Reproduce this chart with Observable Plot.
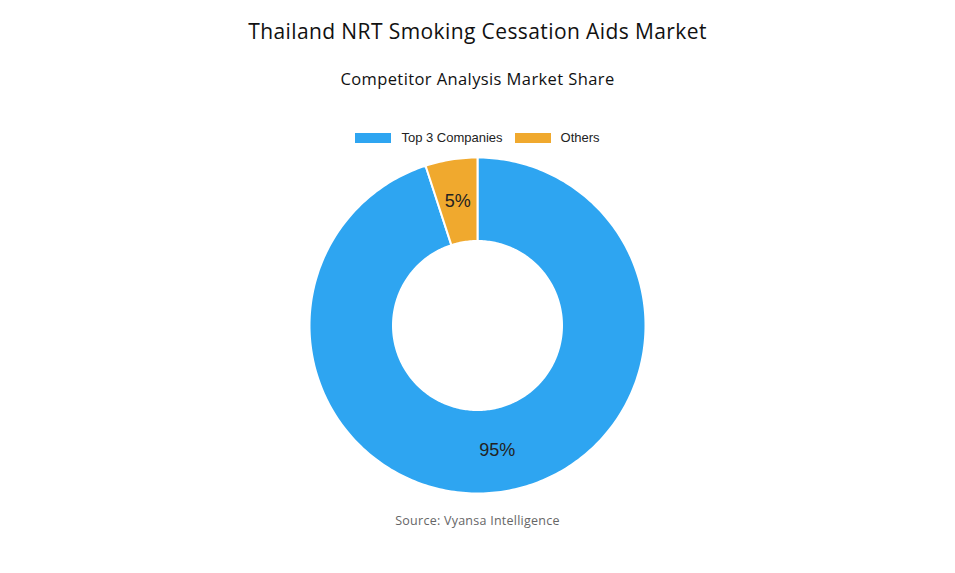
<!DOCTYPE html>
<html>
<head>
<meta charset="utf-8">
<script src="https://cdn.jsdelivr.net/npm/d3@7"></script>
<script src="https://cdn.jsdelivr.net/npm/@observablehq/plot@0.6"></script>
<style>
  html, body { margin: 0; padding: 0; background: #fff; }
  #root { position: relative; width: 955px; height: 573px; overflow: hidden; }
  .title { position: absolute; left: 0; width: 955px; top: 17px; text-align: center;
    font-family: "Open Sans", sans-serif; font-size: 21px; color: #111; letter-spacing: 0.4px; }
  .subtitle { position: absolute; left: 0; width: 955px; top: 67px; text-align: center;
    font-family: "Open Sans", sans-serif; font-size: 16.5px; color: #111; letter-spacing: 0.4px; }
  .legend { position: absolute; left: 0; width: 955px; top: 121px; display: flex; justify-content: center; }
  #legend [class$="-swatch"] { margin-right: 12px !important; }
  #legend [class$="-swatch"]:last-child { margin-right: 0 !important; }
  #legend [class$="-swatch"] > svg { margin-right: 10px !important; }
  .chart { position: absolute; left: 302px; top: 150px; }
  .source { position: absolute; left: 0; width: 955px; top: 512px; text-align: center;
    font-family: "Open Sans", sans-serif; font-size: 12.5px; color: #666; letter-spacing: 0.25px; }
</style>
</head>
<body>
<div id="root">
  <div class="title">Thailand NRT Smoking Cessation Aids Market</div>
  <div class="subtitle">Competitor Analysis Market Share</div>
  <div class="legend" id="legend"></div>
  <div class="chart" id="chart"></div>
  <div class="source">Source: Vyansa Intelligence</div>
</div>
<script>
const categories = ["Top 3 Companies", "Others"];
const shares = [95, 5];
const labels = ["95%", "5%"];
const colors = ["#2ea5f1", "#f0a92e"];

const size = 350;
const outerPx = 168;
const innerPx = 84.5;
const R = (size / 2) / outerPx;   // domain half-extent in units of outer radius
const inner = innerPx / outerPx;

const total = d3.sum(shares);
const polys = [];
const labelRows = [];
let start = 0;
categories.forEach((cat, i) => {
  const a0 = start / total * 2 * Math.PI;
  const a1 = (start + shares[i]) / total * 2 * Math.PI;
  start += shares[i];
  const steps = Math.max(4, Math.ceil((a1 - a0) / (Math.PI / 180)));
  for (let k = 0; k <= steps; k++) {
    const a = a0 + (a1 - a0) * k / steps;
    polys.push({cat, x: Math.sin(a), y: Math.cos(a)});
  }
  for (let k = steps; k >= 0; k--) {
    const a = a0 + (a1 - a0) * k / steps;
    polys.push({cat, x: inner * Math.sin(a), y: inner * Math.cos(a)});
  }
  const am = (a0 + a1) / 2;
  const rm = (1 + inner) / 2;
  labelRows.push({cat, label: labels[i], x: rm * Math.sin(am), y: rm * Math.cos(am)});
});

const chart = Plot.plot({
  width: size,
  height: size,
  margin: 0,
  x: {domain: [-R, R], axis: null},
  y: {domain: [-R, R], axis: null},
  color: {domain: categories, range: colors},
  marks: [
    Plot.line(polys, {x: "x", y: "y", z: "cat", fill: "cat", stroke: "white", strokeWidth: 2, curve: "linear-closed"}),
    Plot.text(labelRows, {x: "x", y: "y", text: "label", fill: "#222", fontSize: 18, fontFamily: "Liberation Sans, Arial, sans-serif"})
  ]
});
document.getElementById("chart").appendChild(chart);

const legend = Plot.legend({
  color: {type: "ordinal", domain: categories, range: colors},
  legend: "swatches",
  swatchWidth: 36,
  swatchHeight: 10,
  style: {fontFamily: "Liberation Sans, Arial, sans-serif", fontSize: "13px", color: "#222"}
});
document.getElementById("legend").appendChild(legend);
</script>
</body>
</html>
